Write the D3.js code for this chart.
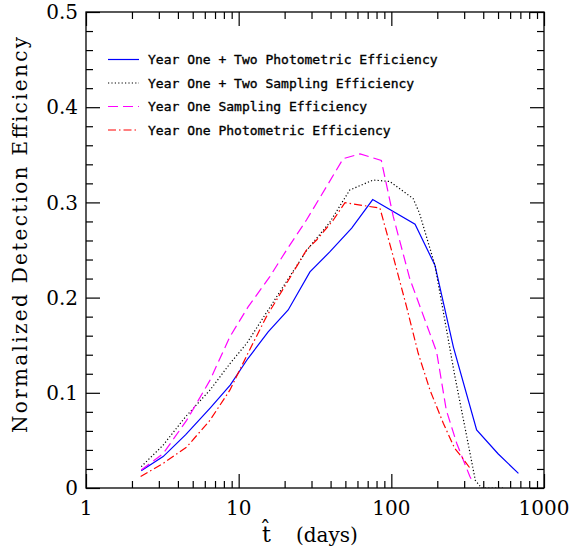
<!DOCTYPE html>
<html lang="en">
<head>
<meta charset="UTF-8">
<title>Normalized Detection Efficiency</title>
<script src="https://d3js.org/d3.v7.min.js"></script>
<style>
    body { margin: 0; background: #fff; }
    svg { display: block; }
    .tick-label { font-family: "DejaVu Serif", serif; font-size: 20px; fill: #000; }
    .axis-title { font-family: "DejaVu Serif", serif; font-size: 20px; fill: #000; }
    .legend-text { font-family: "DejaVu Sans Mono", monospace; font-size: 13px; fill: #000; stroke: #000; stroke-width: 0.35; }
    .axis path.domain { display: none; }
    .axis line { stroke: #000; stroke-width: 1.2; }
</style>
</head>
<body>
<div id="chart"></div>
<script>
    // Year One + Two, photometric efficiency (blue, solid)
    const yr12PhotT   = [2.3, 3.2, 4.5, 6.5, 8.8, 11.5, 15.6, 21.1, 29.3, 39.5, 55, 75.5, 143, 193, 255, 362, 500, 680];
    const yr12PhotEff = [0.018, 0.033, 0.056, 0.084, 0.108, 0.136, 0.164, 0.187, 0.227, 0.248, 0.273, 0.303, 0.277, 0.234, 0.148, 0.061, 0.036, 0.0154];

    // Year One + Two, sampling efficiency (black, dotted)
    const yr12SampT   = [2.3, 3.2, 4.5, 6.5, 8.8, 11.3, 18.6, 28, 39.5, 53.4, 76, 97.5, 139, 153, 193, 261, 312, 355, 390, 540];
    const yr12SampEff = [0.0224, 0.045, 0.075, 0.103, 0.131, 0.152, 0.206, 0.25, 0.279, 0.313, 0.3235, 0.322, 0.304, 0.2885, 0.234, 0.117, 0.054, 0.008, 0, 0];

    // Year One, sampling efficiency (magenta, dashed)
    const yr1SampT   = [2.3, 3.2, 4.56, 6.48, 8.77, 11.5, 16, 20.6, 27.8, 37.6, 48.4, 62.5, 86, 103, 132, 198, 229, 268, 327, 345];
    const yr1SampEff = [0.019, 0.036, 0.071, 0.113, 0.159, 0.19, 0.222, 0.25, 0.2815, 0.3165, 0.346, 0.351, 0.344, 0.285, 0.22, 0.143, 0.082, 0.047, 0.012, 0.005];

    // Year One, photometric efficiency (red, dash-dot)
    const yr1PhotT   = [2.28, 3.21, 4.56, 6.48, 8.77, 11.5, 15.2, 20.6, 27.8, 32.4, 41.7, 49.7, 84.2, 103, 126, 150, 179, 219, 260, 288, 334];
    const yr1PhotEff = [0.012, 0.026, 0.043, 0.071, 0.103, 0.1415, 0.18, 0.215, 0.25, 0.2605, 0.2815, 0.2997, 0.294, 0.243, 0.19, 0.1415, 0.103, 0.068, 0.0417, 0.033, 0.019];

    const seriesNames = [
        "Year One + Two Photometric Efficiency",
        "Year One + Two Sampling Efficiency",
        "Year One Sampling Efficiency",
        "Year One Photometric Efficiency"
    ];

    const xTicks = [1, 10, 100, 1000];
    const xTickLabels = ["1", "10", "100", "1000"];
    const yTicks = [0, 0.1, 0.2, 0.3, 0.4, 0.5];
    const yTickLabels = ["0", "0.1", "0.2", "0.3", "0.4", "0.5"];

    const W = 570, H = 550;
    const plot = {left: 86, right: 544, top: 12, bottom: 488};

    const svg = d3.select("#chart").append("svg")
        .attr("width", W)
        .attr("height", H);

    const x = d3.scaleLog().domain([1, 1000]).range([plot.left, plot.right]);
    const y = d3.scaleLinear().domain([0, 0.5]).range([plot.bottom, plot.top]);

    // minor ticks
    const xMinor = [];
    [1, 10, 100].forEach(d => { for (let k = 2; k <= 9; k++) xMinor.push(d * k); });
    const yMinor = d3.range(0, 0.5001, 0.02).filter(v => Math.abs(v * 10 - Math.round(v * 10)) > 1e-6);

    function tickAxis(axisFn, scale, values, size, transform) {
        svg.append("g")
            .attr("class", "axis")
            .attr("transform", transform)
            .call(axisFn(scale).tickValues(values).tickSize(-size).tickFormat(""));
    }

    tickAxis(d3.axisBottom, x, xTicks, 14, `translate(0,${plot.bottom})`);
    tickAxis(d3.axisBottom, x, xMinor, 7, `translate(0,${plot.bottom})`);
    tickAxis(d3.axisTop, x, xTicks, 14, `translate(0,${plot.top})`);
    tickAxis(d3.axisTop, x, xMinor, 7, `translate(0,${plot.top})`);
    tickAxis(d3.axisLeft, y, yTicks, 14, `translate(${plot.left},0)`);
    tickAxis(d3.axisLeft, y, yMinor, 7, `translate(${plot.left},0)`);
    tickAxis(d3.axisRight, y, yTicks, 14, `translate(${plot.right},0)`);
    tickAxis(d3.axisRight, y, yMinor, 7, `translate(${plot.right},0)`);

    // frame
    svg.append("rect")
        .attr("x", plot.left).attr("y", plot.top)
        .attr("width", plot.right - plot.left)
        .attr("height", plot.bottom - plot.top)
        .attr("fill", "none")
        .attr("stroke", "#000")
        .attr("stroke-width", 1.3);

    // tick labels
    svg.selectAll(".xlab").data(xTicks).enter().append("text")
        .attr("class", "tick-label")
        .attr("x", d => x(d))
        .attr("y", 515)
        .attr("text-anchor", "middle")
        .text((d, i) => xTickLabels[i]);

    svg.selectAll(".ylab").data(yTicks).enter().append("text")
        .attr("class", "tick-label")
        .attr("x", 78)
        .attr("y", d => y(d))
        .attr("dy", "0.36em")
        .attr("text-anchor", "end")
        .text((d, i) => yTickLabels[i]);

    // axis titles
    svg.append("text")
        .attr("class", "axis-title")
        .attr("transform", "translate(27,235) rotate(-90)")
        .attr("text-anchor", "middle")
        .attr("textLength", 396)
        .attr("lengthAdjust", "spacing")
        .text("Normalized Detection Efficiency");

    // x title: t-hat then (days)
    svg.append("text")
        .attr("class", "axis-title")
        .attr("x", 262).attr("y", 542)
        .style("font-size", "22px")
        .text("t\u0302");
    svg.append("text")
        .attr("class", "axis-title")
        .attr("x", 296).attr("y", 542)
        .text("(days)");

    // curves
    const series = [
        {t: yr12PhotT, e: yr12PhotEff, color: "#0000ff", dash: null},
        {t: yr12SampT, e: yr12SampEff, color: "#000000", dash: "1.2,2.2"},
        {t: yr1SampT,  e: yr1SampEff,  color: "#ff00ff", dash: "10,5"},
        {t: yr1PhotT,  e: yr1PhotEff,  color: "#ff0000", dash: "8,3,1.5,3"}
    ];

    svg.append("clipPath").attr("id", "clip")
        .append("rect")
        .attr("x", plot.left).attr("y", plot.top)
        .attr("width", plot.right - plot.left)
        .attr("height", plot.bottom - plot.top);

    const line = d3.line()
        .x(d => x(d[0]))
        .y(d => y(d[1]));

    const curves = svg.append("g").attr("clip-path", "url(#clip)");
    series.forEach(s => {
        curves.append("path")
            .datum(s.t.map((t, i) => [t, s.e[i]]))
            .attr("d", line)
            .attr("fill", "none")
            .attr("stroke", s.color)
            .attr("stroke-width", 1.2)
            .attr("stroke-dasharray", s.dash);
    });

    // legend
    const legendRows = [59.5, 83, 106.5, 130];
    series.forEach((s, i) => {
        svg.append("line")
            .attr("x1", 108).attr("x2", 139)
            .attr("y1", legendRows[i]).attr("y2", legendRows[i])
            .attr("stroke", s.color)
            .attr("stroke-width", 1.2)
            .attr("stroke-dasharray", s.dash);
        svg.append("text")
            .attr("class", "legend-text")
            .attr("x", 148)
            .attr("y", legendRows[i])
            .attr("dy", "0.36em")
            .text(seriesNames[i]);
    });
</script>
</body>
</html>
